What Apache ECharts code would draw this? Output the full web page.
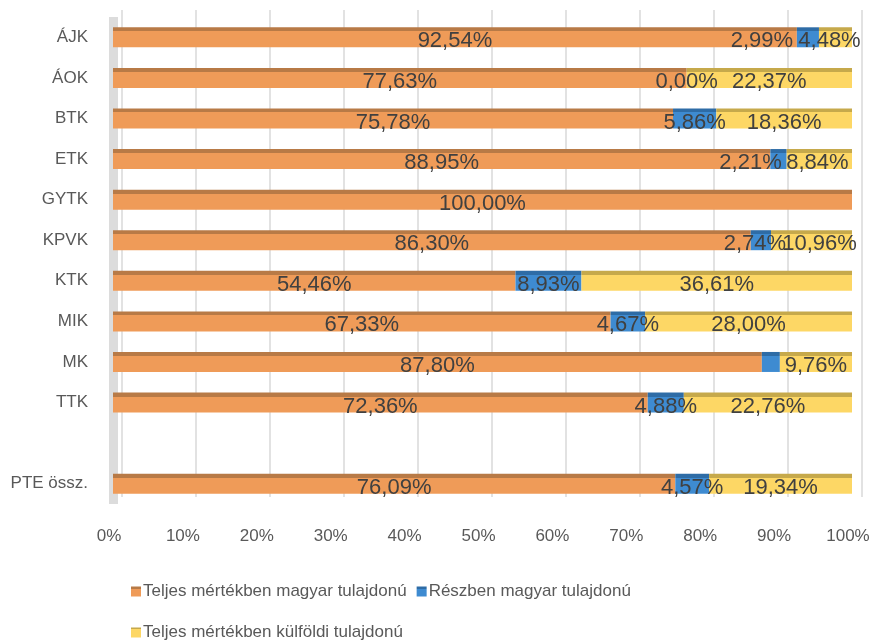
<!DOCTYPE html>
<html>
<head>
<meta charset="utf-8">
<script src="https://cdn.jsdelivr.net/npm/echarts@6/dist/echarts.min.js"></script>
<style>
  html, body { margin: 0; padding: 0; background: #fff; }
  #mycharts { width: 876px; height: 640px; }
</style>
</head>
<body>
<div id="mycharts"></div>
<script>
// kategóriák (felülről lefelé), a 11. sor üres elválasztó
const categories = ["ÁJK", "ÁOK", "BTK", "ETK", "GYTK", "KPVK", "KTK", "MIK", "MK", "TTK", " ", "PTE össz."];
const seriesNames = ["Teljes mértékben magyar tulajdonú", "Részben magyar tulajdonú", "Teljes mértékben külföldi tulajdonú"];
const teljesMagyar = [92.54, 77.63, 75.78, 88.95, 100.0, 86.30, 54.46, 67.33, 87.80, 72.36, null, 76.09];
const reszbenMagyar = [2.99, 0.00, 5.86, 2.21, 0, 2.74, 8.93, 4.67, 2.44, 4.88, null, 4.57];
const kulfoldi = [4.48, 22.37, 18.36, 8.84, 0, 10.96, 36.61, 28.00, 9.76, 22.76, null, 19.34];
const xTicks = ["0%", "10%", "20%", "30%", "40%", "50%", "60%", "70%", "80%", "90%", "100%"];

// címkék, amelyek nem látszanak / el vannak tolva (sorozat -> kategória index)
const hiddenLabels = { 1: [4, 8], 2: [4] };
const labelShift = { 1: { 0: -46, 3: -28, 5: -6 }, 2: { 0: -6, 3: -2, 5: 8 } };

const fronts = ["#EF9B58", "#3E8BD1", "#FDD765"];
const tops = ["#B87A46", "#2E6CA6", "#C6A94B"];

function fmt(v) {
  return v.toFixed(2).replace(".", ",") + "%";
}

function makeSeries(idx, values) {
  return {
    name: seriesNames[idx],
    type: "bar",
    stack: "total",
    barWidth: 20,
    xAxisIndex: 0,
    yAxisIndex: 0,
    itemStyle: {
      color: new echarts.graphic.LinearGradient(0, 0, 0, 1, [
        { offset: 0, color: tops[idx] },
        { offset: 0.2, color: tops[idx] },
        { offset: 0.2, color: fronts[idx] },
        { offset: 1, color: fronts[idx] }
      ])
    },
    label: {
      show: true,
      position: "inside",
      color: "#404040",
      fontFamily: "Liberation Sans",
      fontSize: 22,
      formatter: p => fmt(p.value)
    },
    labelLayout: function (p) {
      let dx = (labelShift[idx] && labelShift[idx][p.dataIndex]) || 0;
      return { dx: dx, dy: 4, hideOverlap: false };
    },
    data: values.map((v, i) => {
      if ((hiddenLabels[idx] || []).indexOf(i) >= 0) {
        return { value: v, label: { show: false } };
      }
      return v;
    })
  };
}

var myCharts = echarts.init(document.getElementById("mycharts"));

let option = {
  animation: false,
  legend: [
    {
      data: [seriesNames[0], seriesNames[1]],
      left: 126,
      top: 578,
      itemWidth: 10,
      itemHeight: 10,
      itemGap: 10,
      icon: "rect",
      textStyle: { color: "#595959", fontSize: 17, fontFamily: "Liberation Sans", padding: [0, 0, 0, -3] }
    },
    {
      data: [seriesNames[2]],
      left: 126,
      top: 619,
      itemWidth: 10,
      itemHeight: 10,
      icon: "rect",
      textStyle: { color: "#595959", fontSize: 17, fontFamily: "Liberation Sans", padding: [0, 0, 0, -3] }
    }
  ],
  grid: [
    { left: 113, right: 24, top: 17, bottom: 136 },
    // hátsó fal rácsvonalai (térhatás miatt eltolva)
    { left: 122, right: 14, top: 10, bottom: 143 }
  ],
  xAxis: [
    {
      type: "value",
      gridIndex: 0,
      min: 0,
      max: 100,
      interval: 10,
      axisLine: { show: false },
      axisTick: { show: false },
      splitLine: { show: false },
      axisLabel: {
        margin: 24,
        color: "#595959",
        fontSize: 17,
        fontFamily: "Liberation Sans",
        padding: [0, 8, 0, 0],
        formatter: v => xTicks[Math.round(v / 10)]
      }
    },
    {
      type: "value",
      gridIndex: 1,
      min: 0,
      max: 100,
      interval: 10,
      axisLine: { show: false },
      axisTick: { show: false },
      axisLabel: { show: false },
      splitLine: { show: true, lineStyle: { color: "#D9D9D9", width: 1.5 } }
    }
  ],
  yAxis: [
    {
      type: "category",
      gridIndex: 0,
      inverse: true,
      data: categories,
      axisLine: { show: true, lineStyle: { color: "#DCDCDC", width: 9, cap: "butt" } },
      axisTick: { show: false },
      axisLabel: {
        margin: 25,
        color: "#595959",
        fontSize: 17,
        fontFamily: "Liberation Sans"
      }
    },
    {
      type: "value",
      gridIndex: 1,
      min: 0,
      max: 1,
      show: false
    }
  ],
  series: [
    makeSeries(0, teljesMagyar),
    makeSeries(1, reszbenMagyar),
    makeSeries(2, kulfoldi)
  ]
};

myCharts.setOption(option);
</script>
</body>
</html>
